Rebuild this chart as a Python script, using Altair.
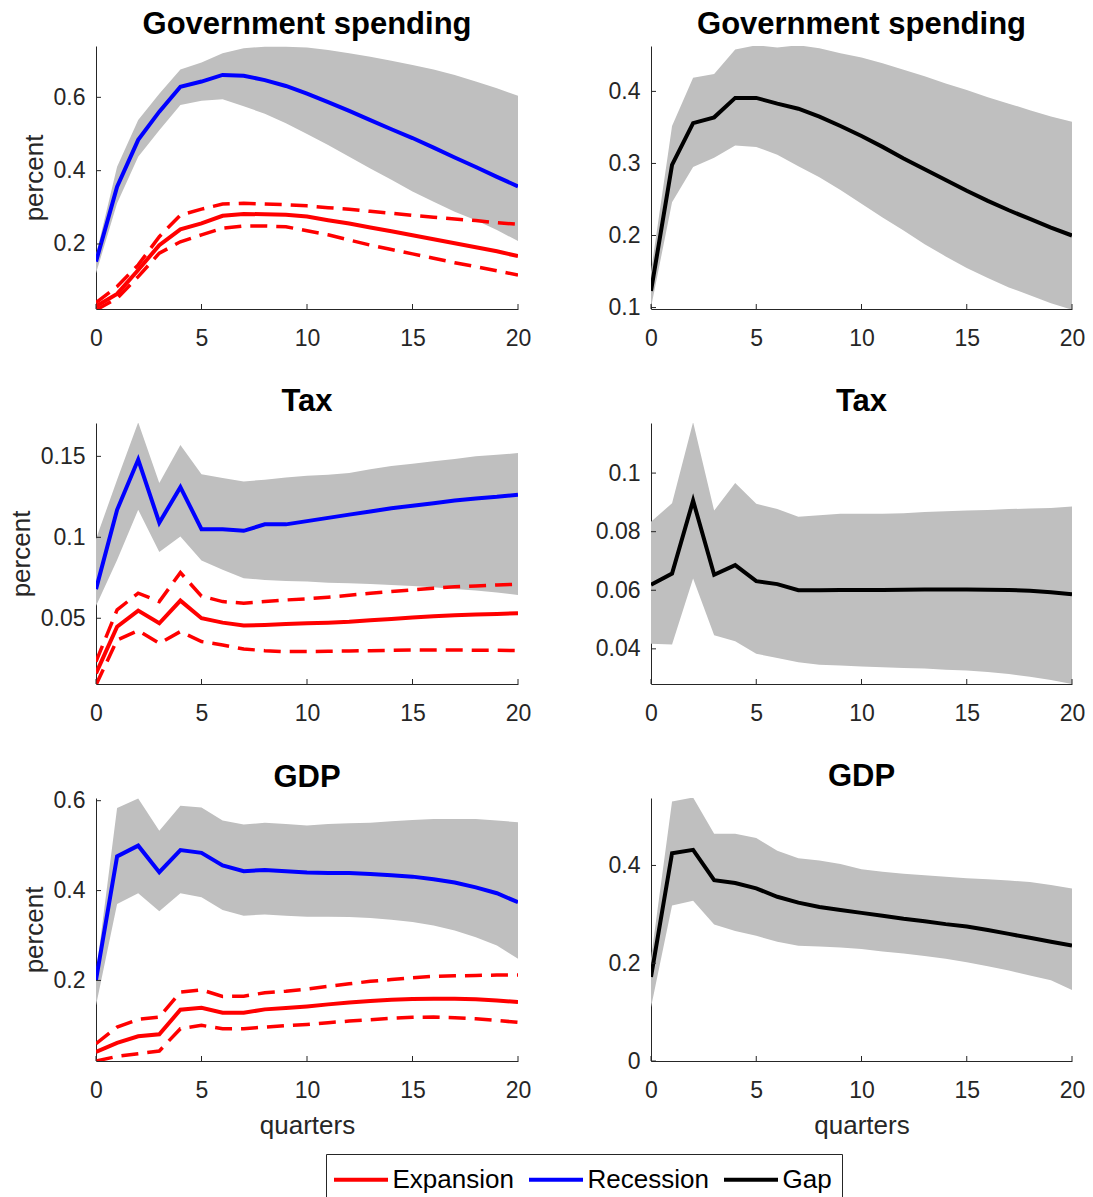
import altair as alt
import pandas as pd

quarters = list(range(21))
x_ticks = [0, 5, 10, 15, 20]

# ---------------- Government spending ----------------
gs_exp = [0.030, 0.064, 0.129, 0.197, 0.240, 0.256, 0.277, 0.282, 0.281, 0.280, 0.275,
          0.265, 0.256, 0.245, 0.235, 0.224, 0.213, 0.202, 0.191, 0.180, 0.167]
gs_exp_hi = [0.040, 0.084, 0.143, 0.220, 0.279, 0.295, 0.309, 0.311, 0.309, 0.307, 0.304,
             0.299, 0.295, 0.289, 0.284, 0.278, 0.273, 0.268, 0.264, 0.258, 0.254]
gs_exp_lo = [0.020, 0.052, 0.111, 0.175, 0.206, 0.225, 0.243, 0.249, 0.249, 0.247, 0.236,
             0.225, 0.211, 0.197, 0.185, 0.173, 0.161, 0.149, 0.138, 0.127, 0.115]
gs_rec = [0.152, 0.356, 0.484, 0.561, 0.629, 0.643, 0.661, 0.659, 0.647, 0.631, 0.610,
          0.587, 0.563, 0.538, 0.513, 0.489, 0.463, 0.436, 0.410, 0.383, 0.357]
gs_rec_hi = [0.170, 0.411, 0.538, 0.610, 0.676, 0.695, 0.720, 0.734, 0.738, 0.738, 0.736,
             0.729, 0.720, 0.711, 0.700, 0.688, 0.676, 0.661, 0.643, 0.625, 0.604]
gs_rec_lo = [0.120, 0.311, 0.438, 0.510, 0.579, 0.591, 0.595, 0.576, 0.555, 0.529, 0.500,
             0.470, 0.438, 0.406, 0.375, 0.343, 0.315, 0.288, 0.265, 0.238, 0.208]
gs_gap = [0.123, 0.298, 0.356, 0.364, 0.391, 0.391, 0.383, 0.376, 0.365, 0.352, 0.338,
          0.323, 0.307, 0.292, 0.277, 0.262, 0.248, 0.235, 0.223, 0.211, 0.200]
gs_gap_hi = [0.150, 0.352, 0.419, 0.424, 0.458, 0.464, 0.461, 0.464, 0.460, 0.453, 0.447,
             0.439, 0.430, 0.421, 0.411, 0.402, 0.392, 0.383, 0.374, 0.365, 0.358]
gs_gap_lo = [0.100, 0.246, 0.295, 0.308, 0.325, 0.323, 0.312, 0.296, 0.281, 0.263, 0.244,
             0.225, 0.207, 0.188, 0.171, 0.155, 0.141, 0.128, 0.117, 0.106, 0.097]

# ---------------- Tax ----------------
tax_exp = [0.0160, 0.0448, 0.0547, 0.0469, 0.0609, 0.0500, 0.0473, 0.0455, 0.0459, 0.0465, 0.0469,
           0.0473, 0.0479, 0.0488, 0.0496, 0.0504, 0.0512, 0.0519, 0.0523, 0.0527, 0.0531]
tax_exp_hi = [0.0232, 0.0552, 0.0655, 0.0603, 0.0782, 0.0637, 0.0603, 0.0593, 0.0603, 0.0613, 0.0620,
              0.0630, 0.0642, 0.0655, 0.0665, 0.0675, 0.0686, 0.0694, 0.0700, 0.0706, 0.0710]
tax_exp_lo = [0.0088, 0.0366, 0.0424, 0.0345, 0.0418, 0.0356, 0.0335, 0.0310, 0.0300, 0.0294, 0.0294,
              0.0296, 0.0298, 0.0300, 0.0302, 0.0304, 0.0304, 0.0304, 0.0302, 0.0302, 0.0300]
tax_rec = [0.0680, 0.1170, 0.1480, 0.1090, 0.1310, 0.1050, 0.1050, 0.1040, 0.1080, 0.1080, 0.1100,
           0.1120, 0.1140, 0.1160, 0.1180, 0.1195, 0.1210, 0.1227, 0.1240, 0.1250, 0.1263]
tax_rec_hi = [0.0989, 0.1356, 0.1710, 0.1335, 0.1570, 0.1390, 0.1366, 0.1345, 0.1356, 0.1370, 0.1380,
              0.1387, 0.1397, 0.1420, 0.1440, 0.1455, 0.1470, 0.1484, 0.1500, 0.1510, 0.1520]
tax_rec_lo = [0.0576, 0.0860, 0.1170, 0.0910, 0.1005, 0.0857, 0.0800, 0.0747, 0.0737, 0.0730, 0.0727,
              0.0720, 0.0716, 0.0712, 0.0706, 0.0700, 0.0692, 0.0680, 0.0671, 0.0659, 0.0644]
tax_gap = [0.0619, 0.0657, 0.0906, 0.0653, 0.0686, 0.0631, 0.0621, 0.0600, 0.0600, 0.0601, 0.0601,
           0.0601, 0.0602, 0.0603, 0.0603, 0.0603, 0.0602, 0.0601, 0.0598, 0.0593, 0.0586]
tax_gap_hi = [0.0834, 0.0897, 0.1174, 0.0872, 0.0966, 0.0895, 0.0877, 0.0851, 0.0856, 0.0861, 0.0861,
              0.0861, 0.0863, 0.0867, 0.0870, 0.0872, 0.0874, 0.0877, 0.0879, 0.0881, 0.0886]
tax_gap_lo = [0.0417, 0.0415, 0.0640, 0.0446, 0.0426, 0.0383, 0.0369, 0.0354, 0.0346, 0.0343, 0.0340,
              0.0337, 0.0335, 0.0333, 0.0329, 0.0326, 0.0321, 0.0314, 0.0305, 0.0294, 0.0280]

# ---------------- GDP ----------------
gdp_exp = [0.0407, 0.0610, 0.0756, 0.0800, 0.1348, 0.1393, 0.1280, 0.1280, 0.1356, 0.1385, 0.1422,
           0.1467, 0.1511, 0.1540, 0.1570, 0.1585, 0.1593, 0.1593, 0.1580, 0.1556, 0.1520]
gdp_exp_hi = [0.0593, 0.0963, 0.1133, 0.1185, 0.1740, 0.1790, 0.1644, 0.1650, 0.1726, 0.1760, 0.1810,
              0.1867, 0.1926, 0.1980, 0.2020, 0.2060, 0.2090, 0.2104, 0.2110, 0.2120, 0.2120]
gdp_exp_lo = [0.0207, 0.0310, 0.0370, 0.0430, 0.0926, 0.1000, 0.0926, 0.0926, 0.0963, 0.0993, 0.1022,
              0.1060, 0.1096, 0.1126, 0.1156, 0.1178, 0.1185, 0.1170, 0.1148, 0.1110, 0.1067]
gdp_rec = [0.201, 0.476, 0.500, 0.441, 0.490, 0.484, 0.456, 0.443, 0.446, 0.443, 0.440,
           0.439, 0.439, 0.437, 0.434, 0.431, 0.425, 0.418, 0.407, 0.394, 0.374]
gdp_rec_hi = [0.215, 0.584, 0.605, 0.533, 0.589, 0.585, 0.556, 0.547, 0.551, 0.548, 0.545,
              0.548, 0.550, 0.551, 0.554, 0.557, 0.559, 0.559, 0.559, 0.556, 0.552]
gdp_rec_lo = [0.144, 0.370, 0.394, 0.354, 0.394, 0.385, 0.357, 0.344, 0.347, 0.344, 0.342,
              0.342, 0.341, 0.339, 0.335, 0.330, 0.322, 0.311, 0.296, 0.278, 0.248]
gdp_gap = [0.172, 0.425, 0.432, 0.370, 0.364, 0.353, 0.336, 0.324, 0.315, 0.309, 0.303,
           0.297, 0.291, 0.286, 0.280, 0.275, 0.268, 0.260, 0.252, 0.244, 0.236]
gdp_gap_hi = [0.210, 0.531, 0.539, 0.465, 0.465, 0.456, 0.430, 0.415, 0.410, 0.403, 0.392,
              0.387, 0.383, 0.380, 0.377, 0.374, 0.372, 0.369, 0.366, 0.360, 0.353]
gdp_gap_lo = [0.110, 0.318, 0.328, 0.279, 0.266, 0.256, 0.244, 0.236, 0.234, 0.232, 0.229,
              0.224, 0.220, 0.215, 0.209, 0.202, 0.194, 0.185, 0.175, 0.165, 0.145]

# axis ranges and ticks per panel
gs_left_domain, gs_left_ticks = [0.0227, 0.740], [0.2, 0.4, 0.6]
gs_right_domain, gs_right_ticks = [0.098, 0.463], [0.1, 0.2, 0.3, 0.4]
tax_left_domain, tax_left_ticks = [0.0094, 0.1706], [0.05, 0.1, 0.15]
tax_right_domain, tax_right_ticks = [0.028, 0.1171], [0.04, 0.06, 0.08, 0.1]
gdp_left_domain, gdp_left_ticks = [0.0207, 0.606], [0.2, 0.4, 0.6]
gdp_right_domain, gdp_right_ticks = [0.0, 0.538], [0, 0.2, 0.4]

series_names = ["Expansion", "Recession", "Gap"]
series_colors = ["#ff0000", "#0000ff", "#000000"]

AXIS_COLOR = "#262626"
BAND_COLOR = "#bfbfbf"
FONT = "Liberation Sans"
W_LEFT = 422
W_RIGHT = 421
ROW_H = [263, 261, 263]
LINE_W = 4
DASH_W = 3.5

color_scale = alt.Scale(domain=series_names, range=series_colors)
legend = alt.Legend(
    orient="none", legendX=230, legendY=1108, direction="horizontal", title=None,
    symbolType="M-2,0H2", symbolSize=729, symbolStrokeWidth=4, symbolOffset=9.5,
    labelFontSize=26, labelColor="black", labelFont=FONT, labelOffset=16,
    columnPadding=7, padding=10, strokeColor=AXIS_COLOR, fillColor="white",
)


def encoders(domain, yticks, ytitle, xtitle):
    xs = alt.Scale(domain=[0, 20], nice=False, zero=False)
    ys = alt.Scale(domain=domain, nice=False, zero=False)
    xa = alt.Axis(values=x_ticks, ticks=False, tickSize=0, labelPadding=18, labelFlush=False,
                  grid=False, labelFontSize=23, labelColor=AXIS_COLOR, labelFont=FONT,
                  domainColor=AXIS_COLOR, domainWidth=1, title=xtitle, titleFontSize=26,
                  titleFontWeight="normal", titleColor=AXIS_COLOR, titleFont=FONT, titlePadding=10)
    ya = alt.Axis(values=yticks, format="~g", ticks=False, tickSize=0, labelPadding=11,
                  grid=False, labelFontSize=23, labelColor=AXIS_COLOR, labelFont=FONT,
                  domainColor=AXIS_COLOR, domainWidth=1, title=ytitle, titleFontSize=26,
                  titleFontWeight="normal", titleColor=AXIS_COLOR, titleFont=FONT, titlePadding=6)

    def X(field):
        return alt.X(field, type="quantitative", scale=xs, axis=xa)

    def Y(field):
        return alt.Y(field, type="quantitative", scale=ys, axis=ya)

    return X, Y


def tick_layers(X, Y, yticks, h):
    yt = alt.Chart(pd.DataFrame({"val": yticks})).mark_rule(color=AXIS_COLOR, strokeWidth=1).encode(
        y=Y("val"), x=alt.value(0), x2=alt.value(5))
    xt = alt.Chart(pd.DataFrame({"q": x_ticks})).mark_rule(color=AXIS_COLOR, strokeWidth=1).encode(
        x=X("q"), y=alt.value(h), y2=alt.value(h - 5))
    return [yt, xt]


def title_of(text, dy=0):
    return alt.TitleParams(text=text, fontSize=31, fontWeight="bold", font=FONT, color="black",
                           offset=5, frame="group", anchor="middle", dy=dy)


def regime_panel(title, exp, exp_lo, exp_hi, rec, rec_lo, rec_hi, domain, yticks, h, xtitle, dy=0):
    X, Y = encoders(domain, yticks, "percent", xtitle)
    band = pd.DataFrame({"q": quarters, "lo": rec_lo, "hi": rec_hi})
    area = alt.Chart(band).mark_area(color=BAND_COLOR, opacity=1, clip=True).encode(
        x=X("q"), y=Y("lo"), y2=alt.Y2("hi"))
    dash_df = pd.DataFrame({
        "q": quarters + quarters,
        "val": exp_lo + exp_hi,
        "bound": ["lo"] * len(quarters) + ["hi"] * len(quarters),
    })
    dash = alt.Chart(dash_df).mark_line(color="#ff0000", strokeWidth=DASH_W, strokeDash=[17, 9],
                                        clip=True).encode(x=X("q"), y=Y("val"), detail="bound:N")
    line_df = pd.DataFrame({
        "q": quarters + quarters,
        "val": exp + rec,
        "series": ["Expansion"] * len(quarters) + ["Recession"] * len(quarters),
    })
    line = alt.Chart(line_df).mark_line(strokeWidth=LINE_W, clip=True).encode(
        x=X("q"), y=Y("val"), color=alt.Color("series:N", scale=color_scale, legend=legend))
    return alt.layer(area, dash, line, *tick_layers(X, Y, yticks, h)).properties(
        width=W_LEFT, height=h, title=title_of(title, dy))


def gap_panel(title, gap, gap_lo, gap_hi, domain, yticks, h, xtitle):
    X, Y = encoders(domain, yticks, None, xtitle)
    band = pd.DataFrame({"q": quarters, "lo": gap_lo, "hi": gap_hi})
    area = alt.Chart(band).mark_area(color=BAND_COLOR, opacity=1, clip=True).encode(
        x=X("q"), y=Y("lo"), y2=alt.Y2("hi"))
    line_df = pd.DataFrame({"q": quarters, "val": gap, "series": ["Gap"] * len(quarters)})
    line = alt.Chart(line_df).mark_line(strokeWidth=LINE_W, clip=True).encode(
        x=X("q"), y=Y("val"), color=alt.Color("series:N", scale=color_scale, legend=legend))
    return alt.layer(area, line, *tick_layers(X, Y, yticks, h)).properties(
        width=W_RIGHT, height=h, title=title_of(title))


panels = [
    regime_panel("Government spending", gs_exp, gs_exp_lo, gs_exp_hi, gs_rec, gs_rec_lo, gs_rec_hi,
                 gs_left_domain, gs_left_ticks, ROW_H[0], None),
    gap_panel("Government spending", gs_gap, gs_gap_lo, gs_gap_hi, gs_right_domain, gs_right_ticks,
              ROW_H[0], None),
    regime_panel("Tax", tax_exp, tax_exp_lo, tax_exp_hi, tax_rec, tax_rec_lo, tax_rec_hi,
                 tax_left_domain, tax_left_ticks, ROW_H[1], None),
    gap_panel("Tax", tax_gap, tax_gap_lo, tax_gap_hi, tax_right_domain, tax_right_ticks, ROW_H[1], None),
    regime_panel("GDP", gdp_exp, gdp_exp_lo, gdp_exp_hi, gdp_rec, gdp_rec_lo, gdp_rec_hi,
                 gdp_left_domain, gdp_left_ticks, ROW_H[2], "quarters", dy=9),
    gap_panel("GDP", gdp_gap, gdp_gap_lo, gdp_gap_hi, gdp_right_domain, gdp_right_ticks, ROW_H[2],
              "quarters"),
]

chart = alt.concat(*panels, columns=2, spacing={"row": 36, "column": 64}).properties(
    padding={"left": 0, "top": 1, "right": 0, "bottom": 0}
).configure(font=FONT).configure_view(strokeWidth=0)

chart.save("out.html", embed_options={"renderer": "svg", "actions": False})
